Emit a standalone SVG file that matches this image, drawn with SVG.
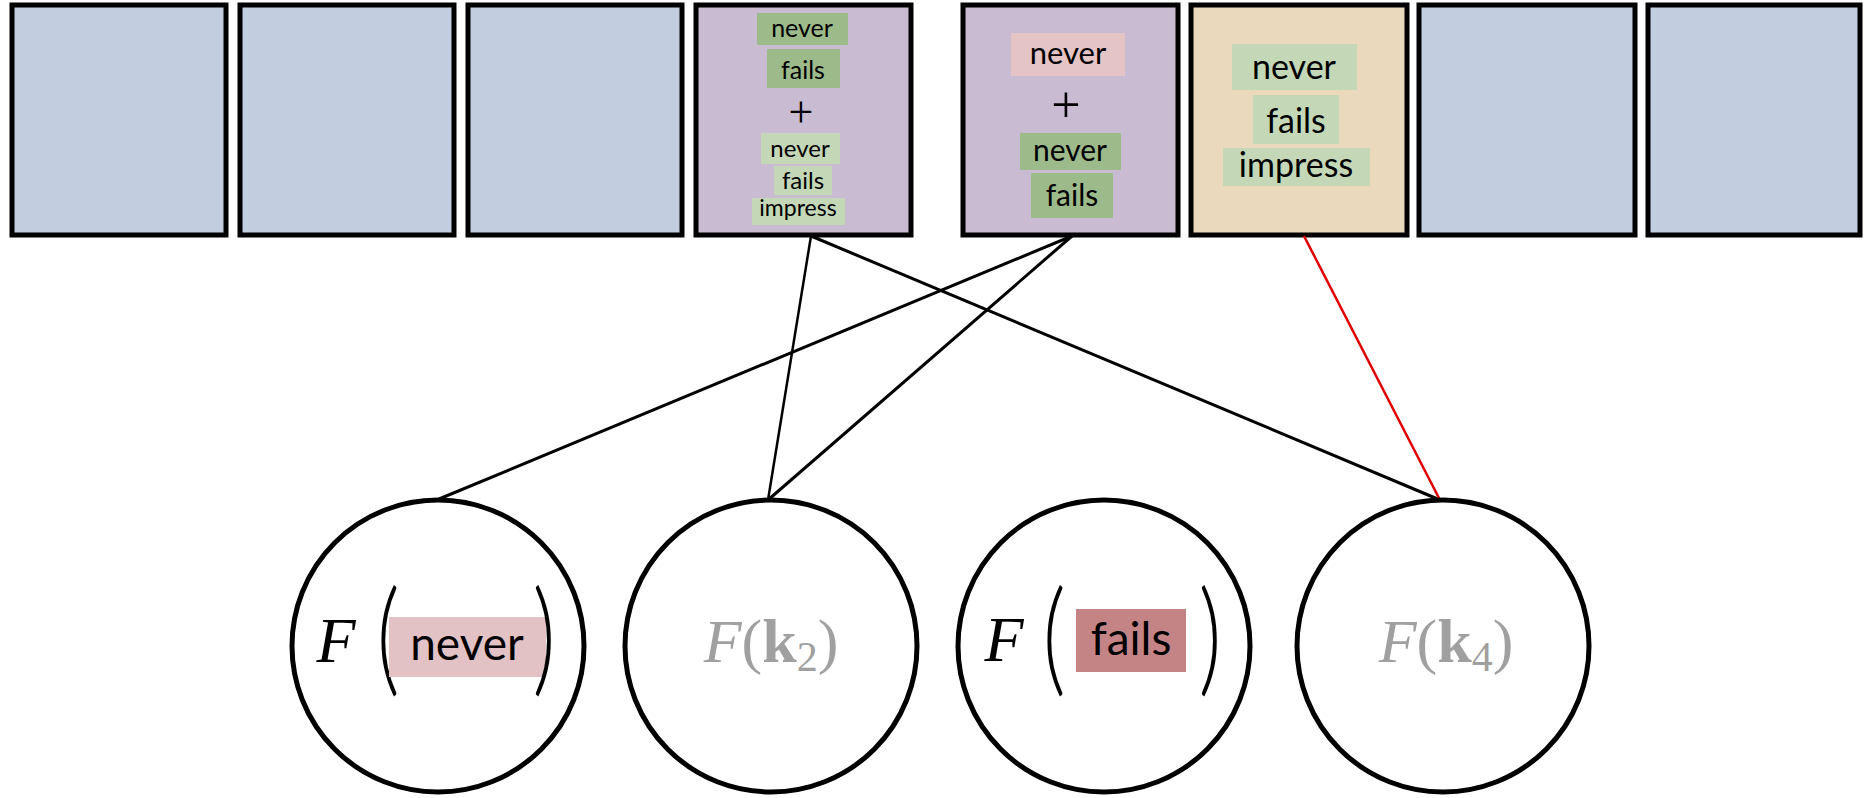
<svg xmlns="http://www.w3.org/2000/svg" width="1864" height="798" viewBox="0 0 1864 798">
  <style>
    .box { stroke: #000; stroke-width: 5; }
    .blue { fill: #C2CDE0; }
    .purple { fill: #C9BBD1; }
    .tan { fill: #EBD9BD; }
    .dg { fill: #9DBB8A; }
    .lg { fill: #C4D8B8; }
    .pk { fill: #E4C4C4; }
    .word { font-family: Lato, "Open Sans", sans-serif; fill: #000; text-anchor: middle; }
    .math { font-family: "Liberation Serif", "DejaVu Serif", serif; text-anchor: middle; }
    .paren { font-family: Lato, sans-serif; font-weight: 300; text-anchor: middle; }
    .node { fill: #fff; stroke: #000; stroke-width: 5; }
    .edge { stroke: #000; stroke-width: 3; fill: none; }
    .edge-thin { stroke: #000; stroke-width: 2.5; fill: none; }
    .edge-red { stroke: #E00000; stroke-width: 2.5; fill: none; }
  </style>
  <rect width="1864" height="798" fill="#fff"/>

  <!-- sequence of blocks -->
  <g id="block1"><rect class="box blue" x="12" y="5" width="214" height="230"/></g>
  <g id="block2"><rect class="box blue" x="240" y="5" width="214" height="230"/></g>
  <g id="block3"><rect class="box blue" x="468" y="5" width="214" height="230"/></g>

  <g id="block4">
    <rect class="box purple" x="696" y="5" width="215" height="230"/>
    <rect class="dg" x="757" y="13" width="91" height="32"/>
    <text class="word" x="802" y="37" font-size="25">never</text>
    <rect class="dg" x="767" y="49" width="73" height="39"/>
    <text class="word" x="803" y="79" font-size="25">fails</text>
    <text class="math" x="801" y="127" font-size="44">+</text>
    <rect class="lg" x="761" y="133" width="79" height="31"/>
    <text class="word" x="800" y="157" font-size="24">never</text>
    <rect class="lg" x="774" y="166" width="58" height="29"/>
    <text class="word" x="803" y="189" font-size="24">fails</text>
    <rect class="lg" x="752" y="198" width="93" height="27"/>
    <text class="word" x="798" y="216" font-size="23">impress</text>
  </g>

  <g id="block5">
    <rect class="box purple" x="963" y="5" width="215" height="230"/>
    <rect class="pk" x="1011" y="33" width="114" height="43"/>
    <text class="word" x="1068" y="64" font-size="31">never</text>
    <text class="math" x="1066" y="122" font-size="52">+</text>
    <rect class="dg" x="1020" y="133" width="101" height="37"/>
    <text class="word" x="1070" y="161" font-size="30">never</text>
    <rect class="dg" x="1031" y="173" width="82" height="45"/>
    <text class="word" x="1072" y="206" font-size="30">fails</text>
  </g>

  <g id="block6">
    <rect class="box tan" x="1191" y="5" width="216" height="230"/>
    <rect class="lg" x="1232" y="44" width="125" height="46"/>
    <text class="word" x="1294" y="79" font-size="34">never</text>
    <rect class="lg" x="1253" y="95" width="86" height="49"/>
    <text class="word" x="1296" y="133" font-size="34">fails</text>
    <rect class="lg" x="1223" y="148" width="147" height="38"/>
    <text class="word" x="1296" y="177" font-size="34">impress</text>
  </g>

  <g id="block7"><rect class="box blue" x="1419" y="5" width="216" height="230"/></g>
  <g id="block8"><rect class="box blue" x="1648" y="5" width="212" height="230"/></g>

  <!-- connectors -->
  <g id="connectors">
    <line class="edge" x1="1072" y1="236" x2="439" y2="499"/>
    <line class="edge" x1="1072" y1="236" x2="768" y2="500"/>
    <line class="edge-thin" x1="811" y1="236" x2="768" y2="500"/>
    <line class="edge" x1="811" y1="236" x2="1440" y2="500"/>
    <line class="edge-red" x1="1304" y1="236" x2="1440" y2="500"/>
  </g>

  <!-- feature nodes -->
  <g id="node1">
    <circle class="node" cx="438" cy="646" r="146"/>
    <text class="math" x="336" y="662" font-size="64" font-style="italic">F</text>
    <text class="paren" transform="translate(388,680) scale(0.9,1.25)" font-size="100">(</text>
    <rect x="389" y="617" width="157" height="60" fill="#E2C2C4"/>
    <text class="word" x="467" y="660" font-size="46">never</text>
    <text class="paren" transform="translate(544,680) scale(0.9,1.25)" font-size="100">)</text>
  </g>

  <g id="node2">
    <circle class="node" cx="771" cy="646" r="146"/>
    <text class="math" x="771" y="662" font-size="62" fill="#A0A0A0"><tspan font-style="italic">F</tspan>(<tspan font-weight="bold">k</tspan><tspan font-size="42" dy="9">2</tspan><tspan dy="-9">)</tspan></text>
  </g>

  <g id="node3">
    <circle class="node" cx="1104" cy="646" r="146"/>
    <text class="math" x="1004" y="661" font-size="64" font-style="italic">F</text>
    <text class="paren" transform="translate(1054,680) scale(0.9,1.25)" font-size="100">(</text>
    <rect x="1076" y="609" width="110" height="63" fill="#C48486"/>
    <text class="word" x="1131" y="655" font-size="46">fails</text>
    <text class="paren" transform="translate(1210,680) scale(0.9,1.25)" font-size="100">)</text>
  </g>

  <g id="node4">
    <circle class="node" cx="1443" cy="646" r="146"/>
    <text class="math" x="1446" y="662" font-size="62" fill="#A0A0A0"><tspan font-style="italic">F</tspan>(<tspan font-weight="bold">k</tspan><tspan font-size="42" dy="9">4</tspan><tspan dy="-9">)</tspan></text>
  </g>
</svg>
